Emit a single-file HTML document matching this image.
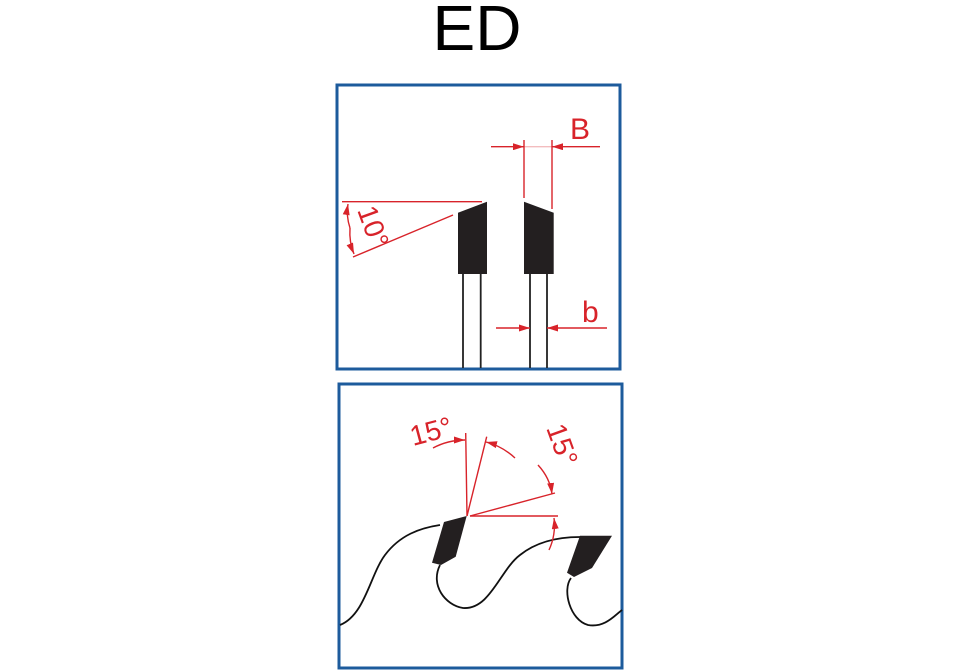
<!DOCTYPE html>
<html><head><meta charset="utf-8"><style>
html,body{margin:0;padding:0;background:#fff;}
svg{display:block;font-family:"Liberation Sans",sans-serif;}
</style></head><body>
<svg width="960" height="670" viewBox="0 0 960 670">
<defs>
<marker id="ar" markerWidth="11" markerHeight="7" refX="11" refY="3.5" orient="auto" markerUnits="userSpaceOnUse"><path d="M0,0 L11,3.5 L0,7Z" fill="#d8232a"/></marker>
</defs>
<text x="477" y="50" font-size="64" text-anchor="middle" fill="#000">ED</text>

<g>
<rect x="337" y="85" width="283" height="284" fill="none" stroke="#1d5b9c" stroke-width="3"/>
<g stroke="#222" stroke-width="1.8">
<line x1="463" y1="274" x2="463" y2="368"/><line x1="480.7" y1="274" x2="480.7" y2="368"/>
<line x1="530" y1="274" x2="530" y2="368"/><line x1="547" y1="274" x2="547" y2="368"/>
</g>
<polygon points="458,212.7 487,201.7 487,274 458,274" fill="#231f20"/>
<polygon points="524,201.7 553.7,212.7 553.7,274 524,274" fill="#231f20"/>
<g stroke="#d8232a" stroke-width="1.4" fill="none">
<line x1="342" y1="201.7" x2="482" y2="201.7"/>
<line x1="353" y1="257" x2="453" y2="215"/>
<path d="M350,228 Q346,216 348,204" marker-end="url(#ar)"/>
<path d="M350,228 Q349,242 354,254" marker-end="url(#ar)"/>
</g>
<text x="0" y="0" font-size="28" fill="#d8232a" transform="translate(357,210) rotate(70)">10°</text>
<g stroke="#d8232a" stroke-width="1.4">
<line x1="524" y1="140" x2="524" y2="198"/><line x1="552" y1="140" x2="552" y2="209"/>
<line x1="491" y1="146.7" x2="524" y2="146.7" marker-end="url(#ar)"/>
<line x1="600" y1="146.7" x2="552" y2="146.7" marker-end="url(#ar)"/>
<line x1="524" y1="146.7" x2="552" y2="146.7" stroke-opacity="0.3"/>
</g>
<text x="570" y="139" font-size="30" fill="#d8232a">B</text>
<g stroke="#d8232a" stroke-width="1.4">
<line x1="496" y1="328" x2="530" y2="328" marker-end="url(#ar)"/>
<line x1="607" y1="328" x2="547" y2="328" marker-end="url(#ar)"/>
</g>
<text x="582" y="322" font-size="30" fill="#d8232a">b</text>
</g>

<g>
<rect x="339" y="384" width="283" height="284" fill="none" stroke="#1d5b9c" stroke-width="3"/>
<path fill="none" stroke="#111" stroke-width="1.8"
 d="M340,625 C365,615 370,575 385,555 C400,535 420,528 440,525
    M440,565 C430,585 445,605 463,608 C490,610 500,570 520,555 C535,543 555,537 580,537
    M571,578 C562,590 570,620 588,625 C605,628 615,615 622,610"/>
<polygon points="444,522 466.7,516 455.7,556.7 441,565 432,562.7" fill="#231f20"/>
<polygon points="580,535.7 612,535.7 592,568 574,577 567,572.7" fill="#231f20"/>
<g stroke="#d8232a" stroke-width="1.4" fill="none">
<line x1="467" y1="516" x2="465.7" y2="433"/>
<line x1="467" y1="516" x2="486.7" y2="436.7"/>
<line x1="470" y1="516" x2="558" y2="516"/>
<line x1="470" y1="516" x2="555" y2="493"/>
<path d="M433,448 Q448,440 465,440" marker-end="url(#ar)"/>
<path d="M515,458 Q502,446 486,442" marker-end="url(#ar)"/>
<path d="M538,465 Q550,478 552,494" marker-end="url(#ar)"/>
<path d="M549,550 Q556,535 554,518" marker-end="url(#ar)"/>
</g>
<text x="0" y="0" font-size="28" fill="#d8232a" transform="translate(413,446) rotate(-15)">15°</text>
<text x="0" y="0" font-size="28" fill="#d8232a" transform="translate(546,428) rotate(70)">15°</text>
</g>
</svg>
</body></html>
